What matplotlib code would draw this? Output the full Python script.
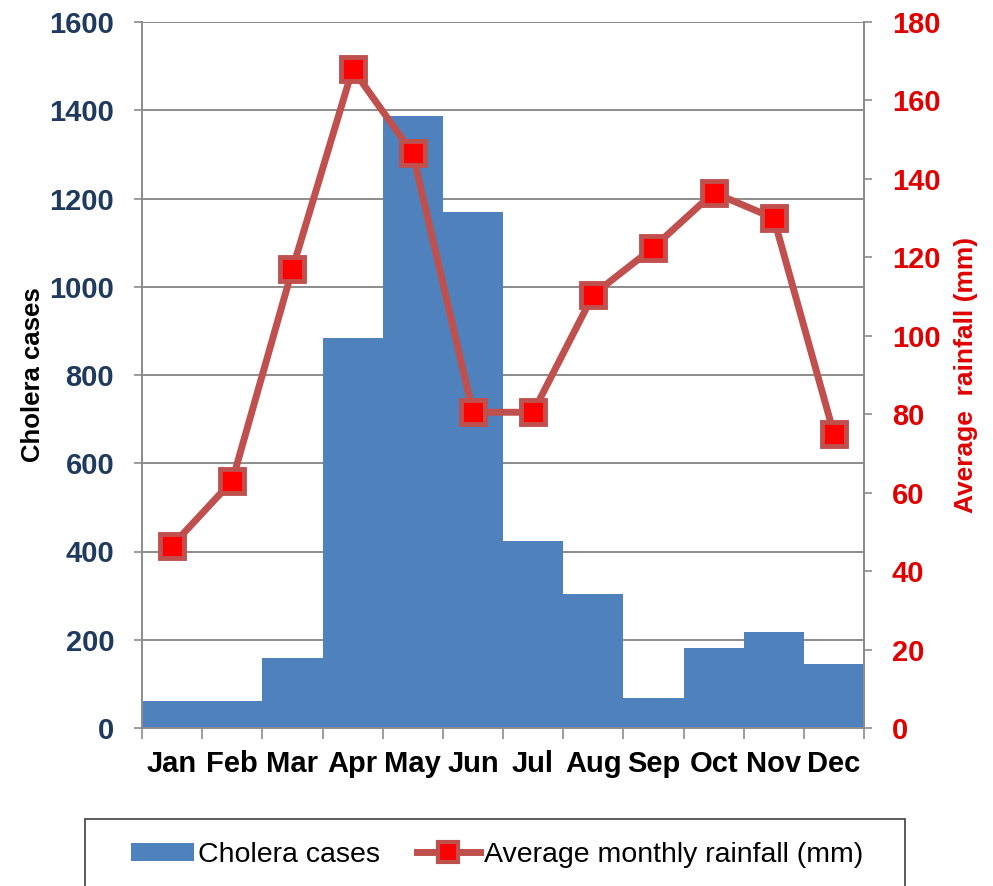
import matplotlib
matplotlib.use("Agg")
import matplotlib.pyplot as plt
from matplotlib.patches import Rectangle, Patch
from matplotlib.lines import Line2D
import numpy as np

plt.rcParams['font.family'] = ['Liberation Sans', 'DejaVu Sans']

months = ["Jan", "Feb", "Mar", "Apr", "May", "Jun", "Jul", "Aug", "Sep", "Oct", "Nov", "Dec"]
cholera_cases = [62, 62, 159, 884, 1387, 1169, 424, 304, 68, 181, 218, 145]
rainfall_mm = [46.5, 63, 117, 168, 146.5, 80.5, 80.5, 110.5, 122.5, 136.5, 130, 75]
left_ticks = [0, 200, 400, 600, 800, 1000, 1200, 1400, 1600]
right_ticks = [0, 20, 40, 60, 80, 100, 120, 140, 160, 180]

fig = plt.figure(figsize=(9.93, 8.86), dpi=100)
ax = fig.add_axes([142/993, 1-728/886, (864-142)/993, (728-22)/886])
x = np.arange(len(months))

ax.bar(x, cholera_cases, width=1.0, color='#4F81BD', zorder=2)
ax.set_xlim(-0.5, 11.5)
ax.set_ylim(0, 1600)
ax.set_yticks(left_ticks)
ax.yaxis.grid(True, color='#8C8C8C', linewidth=1.4, zorder=0)
ax.set_axisbelow(True)
ax.set_xticks(x)
ax.set_xticklabels(months, fontsize=21, fontweight='bold')
ax.set_xticks(np.arange(-0.5, 12.5, 1), minor=True)
ax.tick_params(axis='x', which='major', length=0, pad=16)
ax.tick_params(axis='x', which='minor', length=8, width=1.2, color='#8C8C8C', direction='out')
ax.tick_params(axis='y', labelsize=21, labelcolor='#1F3A5F', length=6, width=1.2, color='#8C8C8C', pad=14)
for lbl in ax.get_yticklabels():
    lbl.set_fontweight('bold')
ax.spines['top'].set_visible(False)
for s in ['left', 'right', 'bottom']:
    ax.spines[s].set_color('#8C8C8C')
    ax.spines[s].set_linewidth(1.4)
ax.set_ylabel("Cholera cases", fontsize=18.5, fontweight='bold', color='black', labelpad=3)

ax2 = ax.twinx()
ax2.plot(x, rainfall_mm, color='#C0504D', linewidth=5, marker='s', markersize=17,
         markerfacecolor='#FF0000', markeredgecolor='#C0504D', markeredgewidth=3.5, zorder=5)
ax2.set_ylim(0, 180)
ax2.set_yticks(right_ticks)
ax2.tick_params(axis='y', labelsize=21, labelcolor='#E00000', length=6, width=1.2, color='#8C8C8C', pad=14)
for lbl in ax2.get_yticklabels():
    lbl.set_fontweight('bold')
for s in ['top', 'left', 'bottom']:
    ax2.spines[s].set_visible(False)
ax2.spines['right'].set_color('#8C8C8C')
ax2.spines['right'].set_linewidth(1.4)
ax2.set_ylabel("Average  rainfall (mm)", fontsize=19, fontweight='bold', color='#E00000', labelpad=10)

# legend box
fig.patches.append(Rectangle((85/993, -0.02), (905-85)/993, (886-819)/886 + 0.02,
                             transform=fig.transFigure, facecolor='white',
                             edgecolor='#404040', linewidth=1.2))
handles = [Patch(facecolor='#4F81BD', edgecolor='none'),
           Line2D([0], [0], color='#C0504D', linewidth=5, marker='s', markersize=14,
                  markerfacecolor='#FF0000', markeredgecolor='#C0504D', markeredgewidth=3)]
fig.legend(handles, ["Cholera cases", "Average monthly rainfall (mm)"],
           loc='center', bbox_to_anchor=(497/993, 1-855/886), ncol=2, frameon=False,
           fontsize=20.5, handlelength=2.2, handleheight=0.6, handletextpad=0.15, columnspacing=1.3)

fig.savefig("out.png", dpi=100)
